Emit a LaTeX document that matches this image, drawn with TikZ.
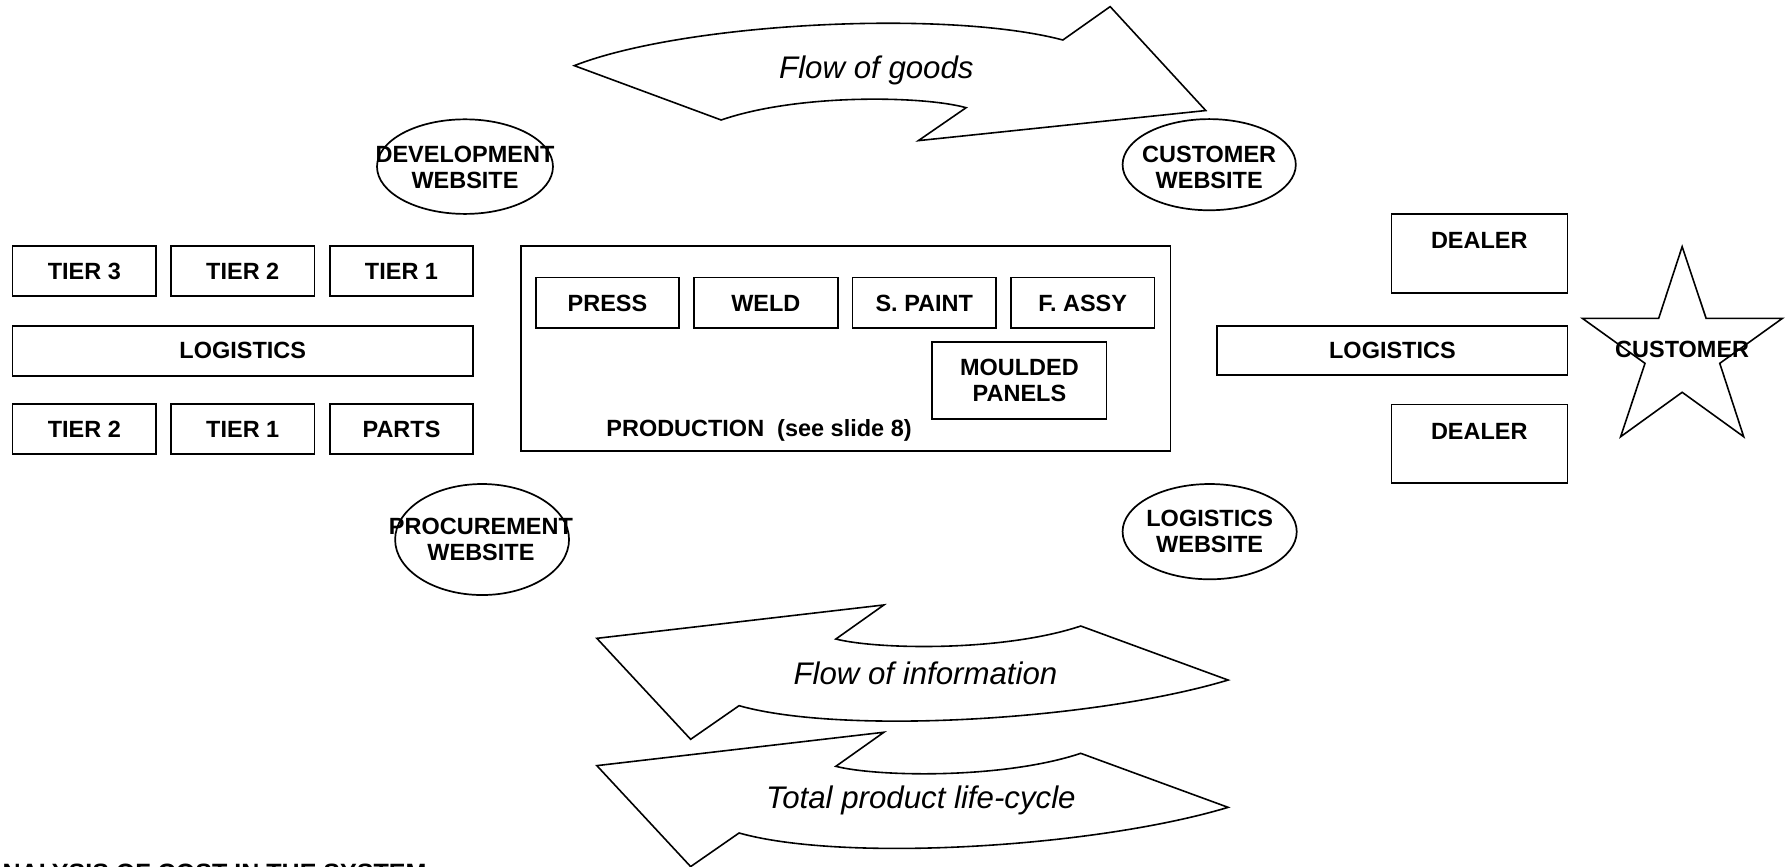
\documentclass[tikz,border=0pt]{standalone}
\usepackage{fontspec}
\setmainfont{Liberation Sans}
\usetikzlibrary{shapes.geometric,fit}
\begin{document}
\begin{tikzpicture}[x=0.5pt,y=-0.5pt,
  box/.style={draw, line width=0.75pt, inner sep=0pt},
  lbl/.style={inner sep=0pt, align=center, font=\bfseries\fontsize{10.3}{11.5}\selectfont},
  oval/.style={draw, ellipse, line width=0.75pt, inner sep=0pt},
  bigarrow/.style={draw, line width=0.7pt, line join=miter, fill=white},
  flowtext/.style={inner sep=0pt, font=\itshape\fontsize{13.7}{16}\selectfont}
]
\useasboundingbox (0,0) rectangle (1568,760);
\fill[white] (0,0) rectangle (1568,760);
\clip (0,0) rectangle (1568,760);

% ---- Flow of goods arrow
\draw[bigarrow] (503.9,57.6) .. controls (600,20) and (830,8) .. (932.6,35.1)
  -- (974.1,5.8) -- (1058,97) -- (805.8,123.4) -- (847.7,94.5)
  .. controls (810,84) and (700,82) .. (632.8,105.3) -- cycle;
\node[flowtext] (goods) at (769,62) {Flow of goods};

% ---- information / life-cycle arrows
\newcommand\infoarrowpath{(523.7,560.1) -- (775.6,530.8) -- (733.4,560.7)
  .. controls (770,570) and (880,572) .. (948.3,549.3) -- (1077.6,596.7)
  .. controls (960,632) and (740,645) .. (648.5,619.2) -- (606,648.7) -- cycle}
\draw[bigarrow] \infoarrowpath;
\begin{scope}[shift={(0,111.7)}]
\draw[bigarrow] \infoarrowpath;
\end{scope}
\node[flowtext] (info) at (812,591) {Flow of information};
\node[flowtext] (life) at (808,702) {Total product life-cycle};

% ---- websites
\node[oval, minimum width=77.2pt, minimum height=41.5pt] (dev) at (408,146.2) {};
\node[lbl] (devt) at (408,147) {DEVELOPMENT\\WEBSITE};
\node[oval, minimum width=76pt, minimum height=40pt] (cust) at (1061,144.5) {};
\node[lbl] (custt) at (1061,147) {CUSTOMER\\WEBSITE};
\node[oval, minimum width=76.3pt, minimum height=48.7pt] (proc) at (423,473.4) {};
\node[lbl] (proct) at (422,473.5) {PROCUREMENT\\WEBSITE};
\node[oval, minimum width=76.4pt, minimum height=41.8pt] (logw) at (1061.4,466.5) {};
\node[lbl] (logwt) at (logw.center) {LOGISTICS\\WEBSITE};

% ---- left supply boxes
\node[box, fit={(11,216)(137,260)}] (t3) {};
\node[lbl] at (t3.center) {TIER 3};
\node[box, fit={(150,216)(276,260)}] (t2a) {};
\node[lbl] at (t2a.center) {TIER 2};
\node[box, fit={(289.6,216)(415,260)}] (t1a) {};
\node[lbl] at (t1a.center) {TIER 1};
\node[box, fit={(11,286)(415,329.7)}] (logl) {};
\node[lbl] at (logl.center) {LOGISTICS};
\node[box, fit={(11,354.5)(137,398.4)}] (t2b) {};
\node[lbl] at (t2b.center) {TIER 2};
\node[box, fit={(150,354.5)(276,398.4)}] (t1b) {};
\node[lbl] at (t1b.center) {TIER 1};
\node[box, fit={(289.6,354.5)(415,398.4)}] (parts) {};
\node[lbl] at (parts.center) {PARTS};

% ---- production
\node[box, fit={(457,216)(1027,396)}] (prod) {};
\node[box, fit={(470,243.6)(596,288.1)}] (press) {};
\node[lbl] at (press.center) {PRESS};
\node[box, fit={(609,243.6)(735,288.1)}] (weld) {};
\node[lbl] at (weld.center) {WELD};
\node[box, fit={(748,243.6)(874,288.1)}] (spaint) {};
\node[lbl] at (spaint.center) {S. PAINT};
\node[box, fit={(887,243.6)(1013,288.1)}] (fassy) {};
\node[lbl] at (fassy.center) {F. ASSY};
\node[box, fit={(818,299.8)(971,367.9)}] (mould) {};
\node[lbl] at (mould.center) {MOULDED\\PANELS};
\node[lbl] (prodt) at (666,378) {PRODUCTION\ \ (see slide 8)};

% ---- right side
\node[box, fit={(1221,187.8)(1375.5,256.8)}] (deal1) {};
\node[lbl] (deal1t) at (1298,211.2) {DEALER};
\node[box, fit={(1068,286)(1375.5,329)}] (logr) {};
\node[lbl] at (logr.center) {LOGISTICS};
\node[box, fit={(1221,355)(1375.5,424)}] (deal2) {};
\node[lbl] (deal2t) at (1298,378.4) {DEALER};

% ---- customer star
\draw[line width=0.7pt, line join=miter] (1476,216.4) -- (1497,279.3) -- (1564,279.3)
  -- (1509,318.8) -- (1530,383.2) -- (1476,344.2) -- (1422,383.2)
  -- (1443.4,318.8) -- (1388.4,279.3) -- (1455.4,279.3) -- cycle;
\node[lbl] (customer) at (1476,307) {CUSTOMER};

% ---- title (cut off at left and bottom edges, as in the reference)
\node[anchor=north west, inner sep=0pt, font=\bfseries\fontsize{11}{13}\selectfont] (title)
  at (-14,757.5) {ANALYSIS OF COST IN THE SYSTEM};
\end{tikzpicture}
\end{document}
